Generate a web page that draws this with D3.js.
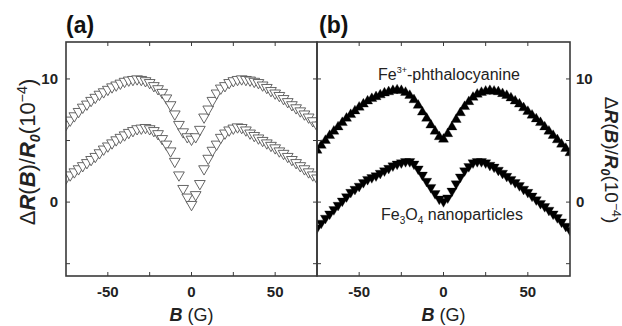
<!DOCTYPE html>
<html><head><meta charset="utf-8">
<script src="https://cdn.jsdelivr.net/npm/d3@7"></script>
<style>
html,body{margin:0;padding:0;background:#fff;}
svg{display:block;font-family:"Liberation Sans",Arial,sans-serif;}
</style></head>
<body><svg id="c" width="622" height="326"></svg>
<script>
// Magnetic field B (G)
const fieldB = [-75,-72.5,-70,-67.5,-65,-62.5,-60,-57.5,-55,-52.5,-50,-47.5,-45,-42.5,-40,-37.5,-35,-32.5,-30,-27.5,-25,-22.5,-20,-17.5,-15,-12.5,-10,-7.5,-5,-2.5,0,2.5,5,7.5,10,12.5,15,17.5,20,22.5,25,27.5,30,32.5,35,37.5,40,42.5,45,47.5,50,52.5,55,57.5,60,62.5,65,67.5,70,72.5,75];
// Panel (a), open triangles: upper and lower curves (10^-4)
const aUpper = [6.3,6.65,7.0,7.35,7.7,7.95,8.25,8.5,8.75,8.95,9.15,9.35,9.5,9.65,9.8,9.9,9.95,10.0,9.95,9.85,9.7,9.45,9.2,8.9,8.45,7.9,7.15,6.3,5.7,5.3,5.1,5.3,5.9,6.9,7.55,8.25,8.85,9.25,9.45,9.7,9.85,9.95,10.0,9.95,9.9,9.8,9.7,9.5,9.3,9.05,8.85,8.65,8.4,8.15,7.9,7.65,7.4,7.15,6.9,6.6,6.25];
const aLower = [1.95,2.2,2.45,2.7,2.95,3.2,3.45,3.7,4.0,4.3,4.55,4.8,5.05,5.25,5.45,5.65,5.8,5.95,6.0,6.05,5.95,5.8,5.55,5.15,4.7,4.15,3.3,2.2,1.1,0.4,-0.2,0.6,1.5,2.7,3.55,4.2,4.7,5.25,5.6,5.85,6.0,6.1,6.05,5.85,5.6,5.4,5.2,5.0,4.8,4.6,4.4,4.15,3.95,3.7,3.45,3.2,2.95,2.7,2.45,2.2,1.95];
// Panel (b), filled triangles
const bPhthalo = [4.2,4.6,5.0,5.4,5.75,6.1,6.45,6.8,7.1,7.4,7.7,7.95,8.2,8.4,8.55,8.7,8.85,8.95,9.05,9.1,9.05,8.9,8.65,8.3,7.85,7.3,6.8,6.25,5.75,5.3,5.1,5.55,6.1,6.7,7.25,7.75,8.15,8.5,8.75,8.9,9.0,9.05,9.0,8.95,8.8,8.65,8.45,8.2,7.95,7.65,7.35,7.05,6.75,6.45,6.1,5.75,5.4,5.05,4.7,4.35,4.0];
const bFe3O4 = [-2.1,-1.7,-1.3,-0.95,-0.6,-0.25,0.1,0.45,0.8,1.05,1.3,1.6,1.85,2.0,2.15,2.35,2.55,2.75,2.95,3.1,3.2,3.3,3.3,3.1,2.7,2.2,1.7,1.2,0.7,0.25,0.05,0.35,0.9,1.5,2.05,2.55,2.9,3.2,3.3,3.3,3.2,3.0,2.85,2.6,2.35,2.1,1.85,1.6,1.35,1.05,0.8,0.5,0.2,-0.1,-0.35,-0.65,-0.95,-1.25,-1.6,-1.95,-2.3];
const xTicks = [-75,-50,-25,0,25,50,75];
const xTickLabels = [-50,0,50];
const yTicks = [-5,0,5,10];
const yTickLabels = [0,10];
const panelLabels = ["(a)","(b)"];

const svg = d3.select("#c");
const plotTop = 42, plotBottom = 276;
const y = d3.scaleLinear().domain([-6,13]).range([plotBottom, plotTop]);
const frameColor = "#3a3a3a";

function panel(id, x0, x1, series, yLabelsSide) {
  const x = d3.scaleLinear().domain([-75,75]).range([x0, x1]);
  const g = svg.append("g");
  g.append("clipPath").attr("id","clip"+id).append("rect")
    .attr("x",x0).attr("y",plotTop).attr("width",x1-x0).attr("height",plotBottom-plotTop);
  const pts = g.append("g").attr("clip-path","url(#clip"+id+")");
  series.forEach(s => {
    const sym = d3.symbol().type(d3.symbolTriangle).size(s.size);
    pts.selectAll(null).data(s.vals).enter().append("path")
      .attr("d", sym)
      .attr("transform",(v,i)=>`translate(${x(fieldB[i])},${y(v)}) rotate(${s.down?180:0})`)
      .attr("fill", s.fill).attr("stroke", s.stroke).attr("stroke-width", s.sw);
  });
  g.append("rect").attr("x",x0).attr("y",plotTop).attr("width",x1-x0).attr("height",plotBottom-plotTop)
    .attr("fill","none").attr("stroke",frameColor).attr("stroke-width",1.6);
  const tl = 4;
  xTicks.forEach(t => {
    if (t<=-75 || t>=75) return;
    g.append("line").attr("x1",x(t)).attr("x2",x(t)).attr("y1",plotBottom).attr("y2",plotBottom-tl).attr("stroke",frameColor).attr("stroke-width",1);
    g.append("line").attr("x1",x(t)).attr("x2",x(t)).attr("y1",plotTop).attr("y2",plotTop+tl).attr("stroke",frameColor).attr("stroke-width",1);
  });
  yTicks.forEach(t => {
    g.append("line").attr("x1",x0).attr("x2",x0+tl).attr("y1",y(t)).attr("y2",y(t)).attr("stroke",frameColor).attr("stroke-width",1);
    g.append("line").attr("x1",x1).attr("x2",x1-tl).attr("y1",y(t)).attr("y2",y(t)).attr("stroke",frameColor).attr("stroke-width",1);
  });
  xTickLabels.forEach(t => {
    g.append("text").attr("x",x(t)).attr("y",297).attr("text-anchor","middle")
      .attr("font-size",15).attr("font-weight","bold").attr("fill","#222").text(t);
  });
  yTickLabels.forEach(t => {
    const left = yLabelsSide==="left";
    g.append("text").attr("x", left ? x0-8 : x1+6).attr("y",y(t)+5)
      .attr("text-anchor", left?"end":"start")
      .attr("font-size",15).attr("font-weight","bold").attr("fill","#222").text(t);
  });
  const xt = g.append("text").attr("x",(x0+x1)/2).attr("y",321).attr("text-anchor","middle")
    .attr("font-size",18).attr("fill","#222");
  xt.append("tspan").attr("font-weight","bold").attr("font-style","italic").text("B");
  xt.append("tspan").text(" (G)");
  return x;
}

panel("a", 66, 317, [
  {vals:aUpper, down:true, fill:"#fff", stroke:"#555", sw:0.9, size:50},
  {vals:aLower, down:true, fill:"#fff", stroke:"#555", sw:0.9, size:50}
], "left");
panel("b", 317, 570, [
  {vals:bPhthalo, down:false, fill:"#000", stroke:"#000", sw:0.3, size:44},
  {vals:bFe3O4, down:true, fill:"#000", stroke:"#000", sw:0.3, size:44}
], "right");

svg.append("text").attr("x",66).attr("y",33).attr("font-size",23).attr("font-weight","bold").attr("fill","#111").text(panelLabels[0]);
svg.append("text").attr("x",319).attr("y",33).attr("font-size",23).attr("font-weight","bold").attr("fill","#111").text(panelLabels[1]);

const l1 = svg.append("text").attr("x",449).attr("y",80).attr("text-anchor","middle").attr("font-size",16).attr("fill","#222");
l1.append("tspan").text("Fe");
l1.append("tspan").attr("font-size",9).attr("dy",-7).text("3+");
l1.append("tspan").attr("dy",7).text("-phthalocyanine");
const l2 = svg.append("text").attr("x",452).attr("y",220).attr("text-anchor","middle").attr("font-size",16).attr("fill","#222");
l2.append("tspan").text("Fe");
l2.append("tspan").attr("font-size",10).attr("dy",4).text("3");
l2.append("tspan").attr("dy",-4).text("O");
l2.append("tspan").attr("font-size",10).attr("dy",4).text("4");
l2.append("tspan").attr("dy",-4).text(" nanoparticles");

function yTitle(cx, cy, rot, fs) {
  const t = svg.append("text").attr("transform",`translate(${cx},${cy}) rotate(${rot})`)
    .attr("text-anchor","middle").attr("font-size",fs).attr("fill","#222");
  t.append("tspan").text("\u0394");
  t.append("tspan").attr("font-weight","bold").attr("font-style","italic").text("R");
  t.append("tspan").text("(");
  t.append("tspan").attr("font-weight","bold").attr("font-style","italic").text("B");
  t.append("tspan").text(")/");
  t.append("tspan").attr("font-weight","bold").attr("font-style","italic").text("R");
  t.append("tspan").attr("font-size",fs*0.65).attr("dy",fs*0.22).attr("font-weight","bold").attr("font-style","italic").text("0");
  t.append("tspan").attr("dy",-fs*0.22).text("(10");
  t.append("tspan").attr("font-size",fs*0.65).attr("dy",-fs*0.38).text("\u22124");
  t.append("tspan").attr("dy",fs*0.38).text(")");
}
yTitle(35, 152, -90, 22);
yTitle(605, 160, 90, 19);
</script></body></html>
